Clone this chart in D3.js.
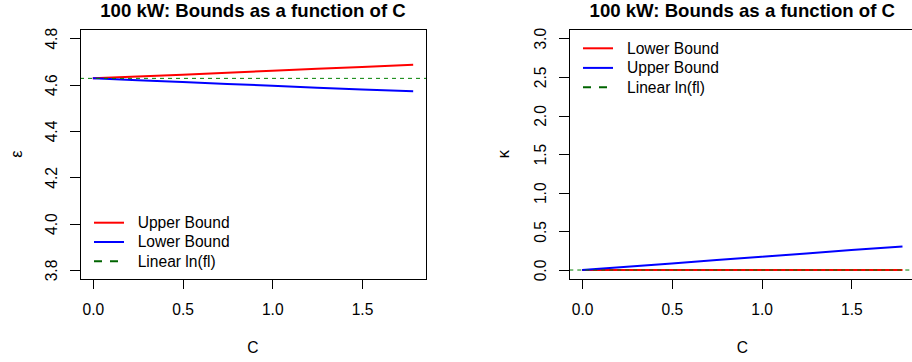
<!DOCTYPE html>
<html>
<head>
<meta charset="utf-8">
<script src="https://cdn.jsdelivr.net/npm/d3@7"></script>
<style>
  html, body { margin: 0; padding: 0; background: #fff; }
  svg { display: block; }
  text { font-family: "Liberation Sans", Arial, Helvetica, sans-serif; fill: #000; }
</style>
</head>
<body>
<svg id="chart" width="912" height="362"></svg>
<script>
// ---- data ----
const cValues = [0, 0.25, 0.5, 0.75, 1.0, 1.25, 1.5, 1.785];

// left panel (epsilon)
const epsUpper = [4.627, 4.635, 4.643, 4.651, 4.660, 4.668, 4.676, 4.686];
const epsLower = [4.627, 4.619, 4.611, 4.603, 4.595, 4.587, 4.579, 4.571];
const epsLinear = 4.627;

// right panel (kappa)
const kapLower = [0, 0, 0, 0, 0, 0, 0, 0];
const kapUpper = [0, 0.043, 0.086, 0.129, 0.172, 0.215, 0.258, 0.306];
const kapLinear = 0;

const xTicks = [0, 0.5, 1.0, 1.5];
const epsTicks = [3.8, 4.0, 4.2, 4.4, 4.6, 4.8];
const kapTicks = [0, 0.5, 1.0, 1.5, 2.0, 2.5, 3.0];

const titleText = "100 kW: Bounds as a function of C";
const leftLegend = [
  { label: "Upper Bound", color: "#ff0000", dash: null },
  { label: "Lower Bound", color: "#0000ff", dash: null },
  { label: "Linear ln(fl)", color: "#006400", dash: "8,8" }
];
const rightLegend = [
  { label: "Lower Bound", color: "#ff0000", dash: null },
  { label: "Upper Bound", color: "#0000ff", dash: null },
  { label: "Linear ln(fl)", color: "#006400", dash: "8,8" }
];

// ---- drawing ----
const svg = d3.select("#chart");
const FS = "15.6px";

function rExpand(lo, hi) { const d = (hi - lo) * 0.04; return [lo - d, hi + d]; }

function panel(opts) {
  const { left, right, top, bottom } = opts.box;
  const g = svg.append("g");
  const clipId = "clip" + opts.id;
  svg.append("clipPath").attr("id", clipId)
    .append("rect").attr("x", left).attr("y", top)
    .attr("width", right - left).attr("height", bottom - top);

  const x = d3.scaleLinear().domain(rExpand(d3.min(cValues), d3.max(cValues))).range([left, right]);
  const y = d3.scaleLinear().domain(rExpand(opts.ylim[0], opts.ylim[1])).range([bottom, top]);

  // title
  g.append("text").attr("x", (left + right) / 2).attr("y", 17.3)
    .attr("text-anchor", "middle").style("font-weight", "bold").style("font-size", "18.6px")
    .text(titleText);

  // x axis
  const xa = g.append("g").attr("transform", `translate(0,${bottom})`)
    .call(d3.axisBottom(x).tickValues(xTicks).tickFormat(d3.format(".1f")).tickSize(10).tickSizeOuter(0));
  xa.select(".domain").remove();
  xa.selectAll(".tick line").attr("stroke", "#000").attr("shape-rendering", "crispEdges");
  xa.selectAll(".tick text").attr("y", 0).attr("dy", null)
    .attr("transform", `translate(0,${314.5 - bottom})`)
    .style("font-size", FS).style("font-family", '"Liberation Sans", Arial, sans-serif');

  // y axis
  const ya = g.append("g").attr("transform", `translate(${left},0)`)
    .call(d3.axisLeft(y).tickValues(opts.yTicks).tickFormat(d3.format(".1f")).tickSize(10).tickSizeOuter(0));
  ya.select(".domain").remove();
  ya.selectAll(".tick line").attr("stroke", "#000").attr("shape-rendering", "crispEdges");
  ya.selectAll(".tick text")
    .attr("x", null).attr("dy", null)
    .attr("text-anchor", "middle")
    .attr("transform", `translate(${opts.yLabelX - left},0) rotate(-90)`)
    .style("font-size", FS).style("font-family", '"Liberation Sans", Arial, sans-serif');

  // axis titles
  g.append("text").attr("x", (left + right) / 2).attr("y", 353)
    .attr("text-anchor", "middle").style("font-size", FS).text("C");
  g.append("text").attr("transform", `translate(${opts.yTitleX},${(top + bottom) / 2}) rotate(-90)`)
    .attr("text-anchor", "middle").style("font-size", "16.5px").text(opts.yTitle);

  // data
  const plot = g.append("g").attr("clip-path", `url(#${clipId})`);
  const line = d3.line().x((d, i) => x(cValues[i])).y(d => y(d));
  opts.series.forEach(s => {
    plot.append("path").datum(s.values).attr("d", line)
      .attr("fill", "none").attr("stroke", s.color).attr("stroke-width", 2);
  });
  plot.append("line")
    .attr("x1", left).attr("x2", right)
    .attr("y1", y(opts.hline)).attr("y2", y(opts.hline))
    .attr("stroke", "#008000").attr("stroke-width", 1).attr("stroke-dasharray", "4,4");

  // box
  g.append("rect").attr("x", left).attr("y", top)
    .attr("width", right - left).attr("height", bottom - top)
    .attr("fill", "none").attr("stroke", "#000").attr("stroke-width", 1)
    .attr("shape-rendering", "crispEdges");

  // legend
  const lg = g.append("g");
  opts.legend.forEach((d, i) => {
    const yy = opts.legendPos.y[i];
    lg.append("line").attr("x1", opts.legendPos.x0).attr("x2", opts.legendPos.x0 + 30)
      .attr("y1", yy).attr("y2", yy)
      .attr("stroke", d.color).attr("stroke-width", 2)
      .attr("stroke-dasharray", d.dash);
    lg.append("text").attr("x", opts.legendPos.tx).attr("y", yy)
      .attr("dy", "0.35em").style("font-size", FS).text(d.label);
  });
}

panel({
  id: "L",
  box: { left: 80, right: 426, top: 29, bottom: 279.3 },
  ylim: [3.8, 4.8],
  yTicks: epsTicks,
  yLabelX: 56.7,
  yTitleX: 22,
  yTitle: "ε",
  series: [
    { values: epsUpper, color: "#ff0000" },
    { values: epsLower, color: "#0000ff" }
  ],
  hline: epsLinear,
  legend: leftLegend,
  legendPos: { x0: 94, tx: 137.7, y: [222.7, 242, 261.3] }
});

panel({
  id: "R",
  box: { left: 569.3, right: 915.3, top: 29, bottom: 279.3 },
  ylim: [0, 3],
  yTicks: kapTicks,
  yLabelX: 546,
  yTitleX: 509,
  yTitle: "κ",
  series: [
    { values: kapLower, color: "#ff0000" },
    { values: kapUpper, color: "#0000ff" }
  ],
  hline: kapLinear,
  legend: rightLegend,
  legendPos: { x0: 583, tx: 627, y: [48.3, 67.9, 87.3] }
});
</script>
</body>
</html>
